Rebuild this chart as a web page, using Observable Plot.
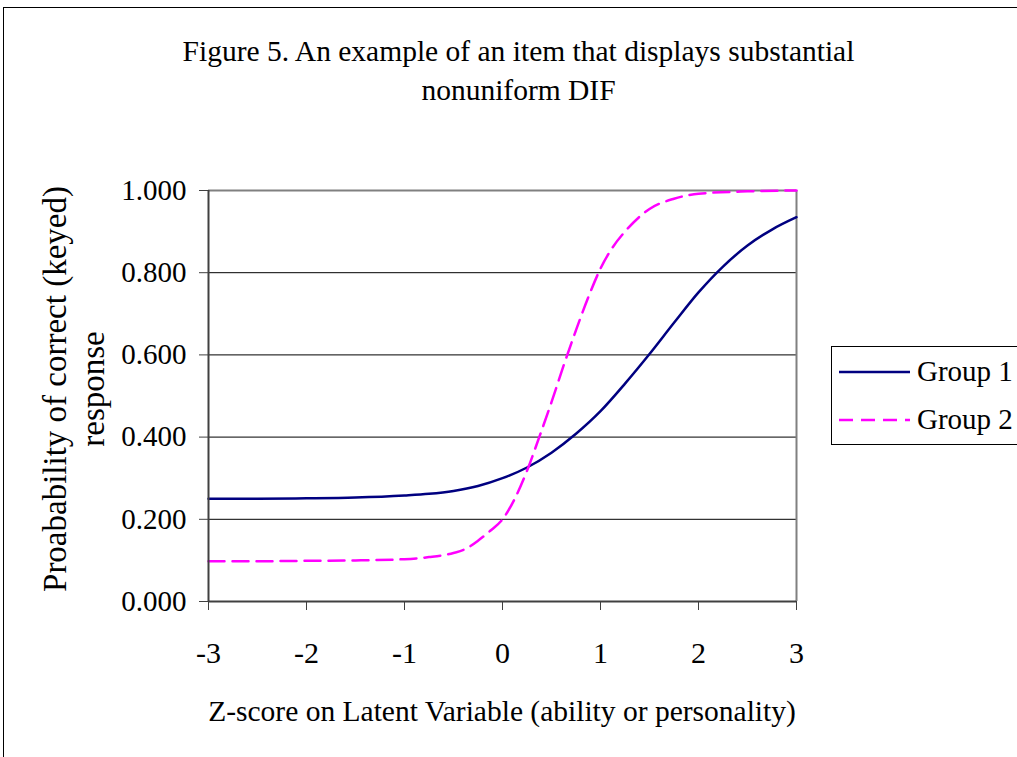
<!DOCTYPE html>
<html>
<head>
<meta charset="utf-8">
<script src="https://cdn.jsdelivr.net/npm/d3@7"></script>
<script src="https://cdn.jsdelivr.net/npm/@observablehq/plot@0.6"></script>
<style>
  html, body { margin: 0; padding: 0; background: #fff; overflow: hidden; width: 1017px; height: 757px; }
  body { position: relative; font-family: "Liberation Serif", "Times New Roman", serif; color: #000; }
  .frame { position: absolute; left: 3px; top: 7px; width: 1100px; height: 900px; border: 1px solid #000; box-sizing: border-box; }
  .title { position: absolute; left: 0; top: 32px; width: 1037px; text-align: center; font-size: 29.5px; line-height: 39px; }
  .ylabel { position: absolute; left: -176px; top: 351px; width: 500px; height: 76px; text-align: center; font-size: 33px; line-height: 38px; transform: rotate(-90deg); transform-origin: 250px 38px; white-space: nowrap; }
  .xlabel { position: absolute; left: 0; top: 692px; width: 1004px; text-align: center; font-size: 29.5px; line-height: 39px; white-space: nowrap; }
  #chart { position: absolute; left: 0; top: 120px; }
  .legend { position: absolute; left: 831px; top: 346px; width: 230px; height: 99px; border: 1px solid #000; box-sizing: border-box; background: #fff; }
  .legend svg { position: absolute; left: 0; top: 0; }
  .legend span { position: absolute; left: 85px; font-size: 29px; line-height: 39px; white-space: nowrap; }
</style>
</head>
<body>
<div class="frame"></div>
<div class="title">Figure 5. An example of an item that displays substantial<br>nonuniform DIF</div>
<div id="chart"></div>
<div class="ylabel">Proabability of correct (keyed)<br>response</div>
<div class="xlabel">Z-score on Latent Variable (ability or personality)</div>
<div class="legend" id="legend"></div>
<script>
// ---- data ----
const groups = ["Group 1", "Group 2"];
const colors = ["#000080", "#FF00FF"];

const xGroup1 = [-3, -2.5, -2, -1.5, -1, -0.75, -0.5, -0.25, 0, 0.25, 0.5, 0.75, 1, 1.25, 1.5, 1.75, 2, 2.25, 2.5, 2.75, 3];
const yGroup1 = [0.250, 0.250, 0.251, 0.253, 0.258, 0.262, 0.269, 0.281, 0.300, 0.326, 0.362, 0.408, 0.463, 0.530, 0.602, 0.678, 0.752, 0.815, 0.866, 0.905, 0.935];

const xGroup2 = [-3, -2.5, -2, -1.5, -1, -0.75, -0.5, -0.375, -0.25, -0.125, 0, 0.125, 0.25, 0.375, 0.5, 0.625, 0.75, 0.875, 1, 1.125, 1.25, 1.5, 1.75, 2, 2.5, 3];
const yGroup2 = [0.098, 0.098, 0.099, 0.100, 0.103, 0.108, 0.118, 0.128, 0.148, 0.172, 0.200, 0.250, 0.318, 0.400, 0.485, 0.575, 0.660, 0.740, 0.810, 0.862, 0.900, 0.955, 0.980, 0.992, 0.998, 1.000];

const xTicks = [-3, -2, -1, 0, 1, 2, 3];
const yTicks = [0, 0.2, 0.4, 0.6, 0.8, 1.0];
const gridLines = [0.2, 0.4, 0.6, 0.8];

const d1 = xGroup1.map((x, i) => ({x, y: yGroup1[i], group: groups[0]}));
const d2 = xGroup2.map((x, i) => ({x, y: yGroup2[i], group: groups[1]}));

const chart = Plot.plot({
  width: 1017,
  height: 620,
  marginTop: 70,
  marginBottom: 139,
  marginLeft: 208,
  marginRight: 221,
  style: {fontFamily: '"Liberation Serif", "Times New Roman", serif', fontSize: "29px", color: "#000", background: "transparent", overflow: "visible"},
  x: {domain: [-3, 3]},
  y: {domain: [0, 1]},
  marks: [
    Plot.ruleY(gridLines, {stroke: "#000", strokeWidth: 1}),
    Plot.ruleY([1], {stroke: "#808080", strokeWidth: 2}),
    Plot.ruleX([3], {stroke: "#808080", strokeWidth: 2}),
    Plot.line(d1, {x: "x", y: "y", stroke: colors[0], strokeWidth: 2.5, curve: "monotone-x"}),
    Plot.line(d2, {x: "x", y: "y", stroke: colors[1], strokeWidth: 2.5, strokeDasharray: "16,8", curve: "monotone-x"}),
    Plot.ruleX([-3], {stroke: "#404040", strokeWidth: 2}),
    Plot.ruleY([0], {stroke: "#404040", strokeWidth: 2}),
    Plot.axisY({ticks: yTicks, tickFormat: d3.format(".3f"), tickSize: 9, tickPadding: 13, label: null, stroke: "#404040", strokeOpacity: 1}),
    Plot.axisX({ticks: xTicks, tickFormat: d => (d < 0 ? "-" + Math.abs(d) : String(d)), tickSize: 9, tickPadding: 31, fontSize: 30, label: null, stroke: "#404040", strokeOpacity: 1})
  ]
});
document.getElementById("chart").appendChild(chart);

// ---- legend ----
const legend = document.getElementById("legend");
const ns = "http://www.w3.org/2000/svg";
const lsvg = document.createElementNS(ns, "svg");
lsvg.setAttribute("width", 230);
lsvg.setAttribute("height", 99);
const rowY = [25, 73];
groups.forEach((g, i) => {
  const ln = document.createElementNS(ns, "line");
  ln.setAttribute("x1", 7); ln.setAttribute("x2", 78);
  ln.setAttribute("y1", rowY[i]); ln.setAttribute("y2", rowY[i]);
  ln.setAttribute("stroke", colors[i]);
  ln.setAttribute("stroke-width", 2.5);
  if (i === 1) ln.setAttribute("stroke-dasharray", "14,8");
  lsvg.appendChild(ln);
  const sp = document.createElement("span");
  sp.textContent = g;
  sp.style.top = (rowY[i] - 20) + "px";
  legend.appendChild(sp);
});
legend.appendChild(lsvg);
</script>
</body>
</html>
